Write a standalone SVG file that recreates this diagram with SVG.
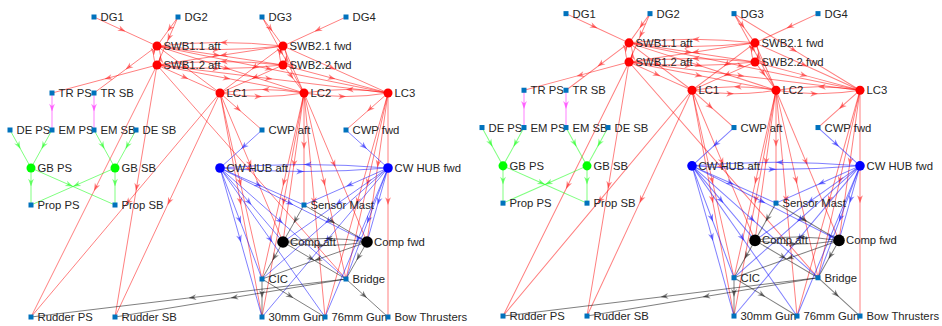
<svg xmlns="http://www.w3.org/2000/svg" width="942" height="326" viewBox="0 0 942 326">
<style>
.e{fill:none;stroke-width:1}
.r{stroke:#f00;stroke-opacity:.5;marker-mid:url(#ar)}
.b{stroke:#00f;stroke-opacity:.5;marker-mid:url(#ab)}
.g{stroke:#0f0;stroke-opacity:.5;marker-mid:url(#ag)}
.m{stroke:#f0f;stroke-opacity:.5;marker-mid:url(#am)}
.k{stroke:#000;stroke-opacity:.5;marker-mid:url(#ak)}
text{font-family:"Liberation Sans",Arial,sans-serif;font-size:11.3px;fill:#262626}
.sq{fill:#0072BD}
.rc{fill:#f00}
.gc{fill:#0f0}
.bc{fill:#00f}
.kc{fill:#000}
</style>
<defs>
<marker id="ar" markerUnits="userSpaceOnUse" markerWidth="10" markerHeight="10" viewBox="-8 -4 9 8" refX="0" refY="0" orient="auto" overflow="visible"><path d="M0,0 L-7,-2.6 L-5,0 L-7,2.6Z" fill="#f00" fill-opacity=".5"/></marker>
<marker id="ab" markerUnits="userSpaceOnUse" markerWidth="10" markerHeight="10" viewBox="-8 -4 9 8" refX="0" refY="0" orient="auto" overflow="visible"><path d="M0,0 L-7,-2.6 L-5,0 L-7,2.6Z" fill="#00f" fill-opacity=".5"/></marker>
<marker id="ag" markerUnits="userSpaceOnUse" markerWidth="10" markerHeight="10" viewBox="-8 -4 9 8" refX="0" refY="0" orient="auto" overflow="visible"><path d="M0,0 L-7,-2.6 L-5,0 L-7,2.6Z" fill="#0f0" fill-opacity=".5"/></marker>
<marker id="am" markerUnits="userSpaceOnUse" markerWidth="10" markerHeight="10" viewBox="-8 -4 9 8" refX="0" refY="0" orient="auto" overflow="visible"><path d="M0,0 L-7,-2.6 L-5,0 L-7,2.6Z" fill="#f0f" fill-opacity=".5"/></marker>
<marker id="ak" markerUnits="userSpaceOnUse" markerWidth="10" markerHeight="10" viewBox="-8 -4 9 8" refX="0" refY="0" orient="auto" overflow="visible"><path d="M0,0 L-7,-2.6 L-5,0 L-7,2.6Z" fill="#000" fill-opacity=".5"/></marker>
</defs>
<rect width="942" height="326" fill="#fff"/>

<g id="panel-left">
<g id="connectors-left">
<path class="e r" d="M94,17 L125.5,31.5 L157,46"/>
<path class="e r" d="M178,17 L167.5,31.5 L157,46"/>
<path class="e r" d="M178,17 L167.5,41 L157,65"/>
<path class="e r" d="M262,17 L272.5,31.5 L283,46"/>
<path class="e r" d="M262,17 L283,55 L304,93"/>
<path class="e r" d="M346,17 L314.5,31.5 L283,46"/>
<path class="e r" d="M157,46 Q153.5,50.75 153.5,55.5 Q153.5,60.25 157,65"/>
<path class="e r" d="M157,65 Q160.5,60.25 160.5,55.5 Q160.5,50.75 157,46"/>
<path class="e r" d="M283,46 Q279.5,50.75 279.5,55.5 Q279.5,60.25 283,65"/>
<path class="e r" d="M283,65 Q286.5,60.25 286.5,55.5 Q286.5,50.75 283,46"/>
<path class="e r" d="M157,46 Q188.5,49.5 220,49.5 Q251.5,49.5 283,46"/>
<path class="e r" d="M283,46 Q251.5,42.5 220,42.5 Q188.5,42.5 157,46"/>
<path class="e r" d="M157,65 Q188.5,68.5 220,68.5 Q251.5,68.5 283,65"/>
<path class="e r" d="M283,65 Q251.5,61.5 220,61.5 Q188.5,61.5 157,65"/>
<path class="e r" d="M157,46 L220,55.5 L283,65"/>
<path class="e r" d="M283,46 L220,55.5 L157,65"/>
<path class="e r" d="M157,46 L188.5,69.5 L220,93"/>
<path class="e r" d="M157,65 L188.5,79 L220,93"/>
<path class="e r" d="M283,46 L251.5,69.5 L220,93"/>
<path class="e r" d="M283,65 L251.5,79 L220,93"/>
<path class="e r" d="M157,46 L230.5,69.5 L304,93"/>
<path class="e r" d="M157,65 L230.5,79 L304,93"/>
<path class="e r" d="M283,46 L293.5,69.5 L304,93"/>
<path class="e r" d="M283,65 L293.5,79 L304,93"/>
<path class="e r" d="M157,46 L272.5,69.5 L388,93"/>
<path class="e r" d="M157,65 L272.5,79 L388,93"/>
<path class="e r" d="M283,46 L335.5,69.5 L388,93"/>
<path class="e r" d="M283,65 L335.5,79 L388,93"/>
<path class="e r" d="M220,93 Q241,96.5 262,96.5 Q283,96.5 304,93"/>
<path class="e r" d="M304,93 Q283,89.5 262,89.5 Q241,89.5 220,93"/>
<path class="e r" d="M304,93 Q325,96.5 346,96.5 Q367,96.5 388,93"/>
<path class="e r" d="M388,93 Q367,89.5 346,89.5 Q325,89.5 304,93"/>
<path class="e r" d="M157,65 L104.5,79 L52,93"/>
<path class="e r" d="M157,46 L125.5,69.5 L94,93"/>
<path class="e r" d="M157,65 L94,191 L31,317"/>
<path class="e r" d="M157,65 L136,191 L115,317"/>
<path class="e r" d="M220,93 L125.5,205 L31,317"/>
<path class="e r" d="M220,93 L167.5,205 L115,317"/>
<path class="e r" d="M157,65 L251.5,172 L346,279"/>
<path class="e r" d="M220,93 L241,111.5 L262,130"/>
<path class="e r" d="M388,93 L367,111.5 L346,130"/>
<path class="e r" d="M304,93 L304,149 L304,205"/>
<path class="e r" d="M220,93 L251.5,167.5 L283,242"/>
<path class="e r" d="M304,93 L293.5,167.5 L283,242"/>
<path class="e r" d="M304,93 L335.5,167.5 L367,242"/>
<path class="e r" d="M388,93 L377.5,167.5 L367,242"/>
<path class="e r" d="M220,93 L241,186 L262,279"/>
<path class="e r" d="M304,93 L283,186 L262,279"/>
<path class="e r" d="M304,93 L325,186 L346,279"/>
<path class="e r" d="M388,93 L367,186 L346,279"/>
<path class="e r" d="M220,93 L241,205 L262,317"/>
<path class="e r" d="M304,93 L283,205 L262,317"/>
<path class="e r" d="M304,93 L314.5,205 L325,317"/>
<path class="e r" d="M388,93 L356.5,205 L325,317"/>
<path class="e r" d="M388,93 L388,205 L388,317"/>
<path class="e m" d="M52,93 L52,111.5 L52,130"/>
<path class="e m" d="M94,93 L94,111.5 L94,130"/>
<path class="e g" d="M10,130 L20.5,149 L31,168"/>
<path class="e g" d="M52,130 L41.5,149 L31,168"/>
<path class="e g" d="M94,130 L104.5,149 L115,168"/>
<path class="e g" d="M136,130 L125.5,149 L115,168"/>
<path class="e g" d="M31,168 L31,186.5 L31,205"/>
<path class="e g" d="M31,168 L73,186.5 L115,205"/>
<path class="e g" d="M115,168 L73,186.5 L31,205"/>
<path class="e g" d="M115,168 L115,186.5 L115,205"/>
<path class="e b" d="M262,130 L241,149 L220,168"/>
<path class="e b" d="M346,130 L367,149 L388,168"/>
<path class="e b" d="M220,168 Q262,171.5 304,171.5 Q346,171.5 388,168"/>
<path class="e b" d="M388,168 Q346,164.5 304,164.5 Q262,164.5 220,168"/>
<path class="e b" d="M220,168 L262,186.5 L304,205"/>
<path class="e b" d="M388,168 L346,186.5 L304,205"/>
<path class="e b" d="M220,168 L251.5,205 L283,242"/>
<path class="e b" d="M220,168 L293.5,205 L367,242"/>
<path class="e b" d="M388,168 L335.5,205 L283,242"/>
<path class="e b" d="M388,168 L377.5,205 L367,242"/>
<path class="e b" d="M220,168 L241,223.5 L262,279"/>
<path class="e b" d="M220,168 L283,223.5 L346,279"/>
<path class="e b" d="M388,168 L325,223.5 L262,279"/>
<path class="e b" d="M388,168 L367,223.5 L346,279"/>
<path class="e b" d="M220,168 L241,242.5 L262,317"/>
<path class="e b" d="M220,168 L272.5,242.5 L325,317"/>
<path class="e b" d="M388,168 L325,242.5 L262,317"/>
<path class="e b" d="M388,168 L356.5,242.5 L325,317"/>
<path class="e k" d="M304,205 L293.5,223.5 L283,242"/>
<path class="e k" d="M304,205 L335.5,223.5 L367,242"/>
<path class="e k" d="M283,242 Q304,245.5 325,245.5 Q346,245.5 367,242"/>
<path class="e k" d="M367,242 Q346,238.5 325,238.5 Q304,238.5 283,242"/>
<path class="e k" d="M283,242 L272.5,260.5 L262,279"/>
<path class="e k" d="M283,242 L314.5,260.5 L346,279"/>
<path class="e k" d="M367,242 L314.5,260.5 L262,279"/>
<path class="e k" d="M367,242 L356.5,260.5 L346,279"/>
<path class="e k" d="M262,279 L262,298 L262,317"/>
<path class="e k" d="M262,279 L293.5,298 L325,317"/>
<path class="e k" d="M346,279 L367,298 L388,317"/>
<path class="e k" d="M346,279 L188.5,298 L31,317"/>
<path class="e k" d="M346,279 L230.5,298 L115,317"/>
</g>
<g id="L-DG1"><rect class="sq" x="91.5" y="14.5" width="5" height="5"/><text x="100.5" y="21">DG1</text></g>
<g id="L-DG2"><rect class="sq" x="175.5" y="14.5" width="5" height="5"/><text x="184.5" y="21">DG2</text></g>
<g id="L-DG3"><rect class="sq" x="259.5" y="14.5" width="5" height="5"/><text x="268.5" y="21">DG3</text></g>
<g id="L-DG4"><rect class="sq" x="343.5" y="14.5" width="5" height="5"/><text x="352.5" y="21">DG4</text></g>
<g id="L-SWB11"><circle class="rc" cx="157" cy="46" r="4.5"/><text x="163.5" y="50">SWB1.1 aft</text></g>
<g id="L-SWB12"><circle class="rc" cx="157" cy="65" r="4.5"/><text x="163.5" y="69">SWB1.2 aft</text></g>
<g id="L-SWB21"><circle class="rc" cx="283" cy="46" r="4.5"/><text x="289.5" y="50">SWB2.1 fwd</text></g>
<g id="L-SWB22"><circle class="rc" cx="283" cy="65" r="4.5"/><text x="289.5" y="69">SWB2.2 fwd</text></g>
<g id="L-TRPS"><rect class="sq" x="49.5" y="90.5" width="5" height="5"/><text x="58.5" y="97">TR PS</text></g>
<g id="L-TRSB"><rect class="sq" x="91.5" y="90.5" width="5" height="5"/><text x="100.5" y="97">TR SB</text></g>
<g id="L-LC1"><circle class="rc" cx="220" cy="93" r="4.5"/><text x="226.5" y="97">LC1</text></g>
<g id="L-LC2"><circle class="rc" cx="304" cy="93" r="4.5"/><text x="310.5" y="97">LC2</text></g>
<g id="L-LC3"><circle class="rc" cx="388" cy="93" r="4.5"/><text x="394.5" y="97">LC3</text></g>
<g id="L-DEPS"><rect class="sq" x="7.5" y="127.5" width="5" height="5"/><text x="16.5" y="134">DE PS</text></g>
<g id="L-EMPS"><rect class="sq" x="49.5" y="127.5" width="5" height="5"/><text x="58.5" y="134">EM PS</text></g>
<g id="L-EMSB"><rect class="sq" x="91.5" y="127.5" width="5" height="5"/><text x="100.5" y="134">EM SB</text></g>
<g id="L-DESB"><rect class="sq" x="133.5" y="127.5" width="5" height="5"/><text x="142.5" y="134">DE SB</text></g>
<g id="L-CWPaft"><rect class="sq" x="259.5" y="127.5" width="5" height="5"/><text x="268.5" y="134">CWP aft</text></g>
<g id="L-CWPfwd"><rect class="sq" x="343.5" y="127.5" width="5" height="5"/><text x="352.5" y="134">CWP fwd</text></g>
<g id="L-GBPS"><circle class="gc" cx="31" cy="168" r="4.5"/><text x="37.5" y="172">GB PS</text></g>
<g id="L-GBSB"><circle class="gc" cx="115" cy="168" r="4.5"/><text x="121.5" y="172">GB SB</text></g>
<g id="L-HUBaft"><circle class="bc" cx="220" cy="168" r="4.8"/><text x="226.5" y="172">CW HUB aft</text></g>
<g id="L-HUBfwd"><circle class="bc" cx="388" cy="168" r="4.8"/><text x="394.5" y="172">CW HUB fwd</text></g>
<g id="L-PropPS"><rect class="sq" x="28.5" y="202.5" width="5" height="5"/><text x="37.5" y="209">Prop PS</text></g>
<g id="L-PropSB"><rect class="sq" x="112.5" y="202.5" width="5" height="5"/><text x="121.5" y="209">Prop SB</text></g>
<g id="L-Sensor"><rect class="sq" x="301.5" y="202.5" width="5" height="5"/><text x="310.5" y="209">Sensor Mast</text></g>
<g id="L-CompAft"><circle class="kc" cx="283" cy="242" r="5.8"/><text x="290" y="246">Comp aft</text></g>
<g id="L-CompFwd"><circle class="kc" cx="367" cy="242" r="5.8"/><text x="374" y="246">Comp fwd</text></g>
<g id="L-CIC"><rect class="sq" x="259.5" y="276.5" width="5" height="5"/><text x="268.5" y="283">CIC</text></g>
<g id="L-Bridge"><rect class="sq" x="343.5" y="276.5" width="5" height="5"/><text x="352.5" y="283">Bridge</text></g>
<g id="L-RudPS"><rect class="sq" x="28.5" y="314.5" width="5" height="5"/><text x="37.5" y="321">Rudder PS</text></g>
<g id="L-RudSB"><rect class="sq" x="112.5" y="314.5" width="5" height="5"/><text x="121.5" y="321">Rudder SB</text></g>
<g id="L-G30"><rect class="sq" x="259.5" y="314.5" width="5" height="5"/><text x="268.5" y="321">30mm Gun</text></g>
<g id="L-G76"><rect class="sq" x="322.5" y="314.5" width="5" height="5"/><text x="331.5" y="321">76mm Gun</text></g>
<g id="L-BT"><rect class="sq" x="385.5" y="314.5" width="5" height="5"/><text x="394.5" y="321">Bow Thrusters</text></g>
</g>

<g id="panel-right" transform="translate(472,-3.5) scale(1,1.008)">
<g id="connectors-right">
<path class="e r" d="M94,17 L125.5,31.5 L157,46"/>
<path class="e r" d="M178,17 L167.5,31.5 L157,46"/>
<path class="e r" d="M178,17 L167.5,41 L157,65"/>
<path class="e r" d="M262,17 L272.5,31.5 L283,46"/>
<path class="e r" d="M262,17 L283,55 L304,93"/>
<path class="e r" d="M346,17 L314.5,31.5 L283,46"/>
<path class="e r" d="M262,17 L325,55 L388,93"/>
<path class="e r" d="M157,46 Q153.5,50.75 153.5,55.5 Q153.5,60.25 157,65"/>
<path class="e r" d="M157,65 Q160.5,60.25 160.5,55.5 Q160.5,50.75 157,46"/>
<path class="e r" d="M283,46 Q279.5,50.75 279.5,55.5 Q279.5,60.25 283,65"/>
<path class="e r" d="M283,65 Q286.5,60.25 286.5,55.5 Q286.5,50.75 283,46"/>
<path class="e r" d="M157,46 Q188.5,49.5 220,49.5 Q251.5,49.5 283,46"/>
<path class="e r" d="M283,46 Q251.5,42.5 220,42.5 Q188.5,42.5 157,46"/>
<path class="e r" d="M157,65 Q188.5,68.5 220,68.5 Q251.5,68.5 283,65"/>
<path class="e r" d="M283,65 Q251.5,61.5 220,61.5 Q188.5,61.5 157,65"/>
<path class="e r" d="M157,46 L220,55.5 L283,65"/>
<path class="e r" d="M283,46 L220,55.5 L157,65"/>
<path class="e r" d="M157,46 L188.5,69.5 L220,93"/>
<path class="e r" d="M157,65 L188.5,79 L220,93"/>
<path class="e r" d="M283,46 L251.5,69.5 L220,93"/>
<path class="e r" d="M283,65 L251.5,79 L220,93"/>
<path class="e r" d="M157,46 L230.5,69.5 L304,93"/>
<path class="e r" d="M157,65 L230.5,79 L304,93"/>
<path class="e r" d="M283,46 L293.5,69.5 L304,93"/>
<path class="e r" d="M283,65 L293.5,79 L304,93"/>
<path class="e r" d="M157,46 L272.5,69.5 L388,93"/>
<path class="e r" d="M157,65 L272.5,79 L388,93"/>
<path class="e r" d="M283,46 L335.5,69.5 L388,93"/>
<path class="e r" d="M283,65 L335.5,79 L388,93"/>
<path class="e r" d="M220,93 Q241,96.5 262,96.5 Q283,96.5 304,93"/>
<path class="e r" d="M304,93 Q283,89.5 262,89.5 Q241,89.5 220,93"/>
<path class="e r" d="M304,93 Q325,96.5 346,96.5 Q367,96.5 388,93"/>
<path class="e r" d="M388,93 Q367,89.5 346,89.5 Q325,89.5 304,93"/>
<path class="e r" d="M157,65 L104.5,79 L52,93"/>
<path class="e r" d="M157,46 L125.5,69.5 L94,93"/>
<path class="e r" d="M157,65 L94,191 L31,317"/>
<path class="e r" d="M157,65 L136,191 L115,317"/>
<path class="e r" d="M220,93 L125.5,205 L31,317"/>
<path class="e r" d="M220,93 L167.5,205 L115,317"/>
<path class="e r" d="M157,65 L251.5,172 L346,279"/>
<path class="e r" d="M220,93 L241,111.5 L262,130"/>
<path class="e r" d="M388,93 L367,111.5 L346,130"/>
<path class="e r" d="M304,93 L304,149 L304,205"/>
<path class="e r" d="M220,93 L251.5,167.5 L283,242"/>
<path class="e r" d="M304,93 L293.5,167.5 L283,242"/>
<path class="e r" d="M304,93 L335.5,167.5 L367,242"/>
<path class="e r" d="M388,93 L377.5,167.5 L367,242"/>
<path class="e r" d="M220,93 L241,186 L262,279"/>
<path class="e r" d="M304,93 L283,186 L262,279"/>
<path class="e r" d="M304,93 L325,186 L346,279"/>
<path class="e r" d="M388,93 L367,186 L346,279"/>
<path class="e r" d="M220,93 L241,205 L262,317"/>
<path class="e r" d="M304,93 L283,205 L262,317"/>
<path class="e r" d="M304,93 L314.5,205 L325,317"/>
<path class="e r" d="M388,93 L356.5,205 L325,317"/>
<path class="e r" d="M388,93 L388,205 L388,317"/>
<path class="e m" d="M52,93 L52,111.5 L52,130"/>
<path class="e m" d="M94,93 L94,111.5 L94,130"/>
<path class="e g" d="M10,130 L20.5,149 L31,168"/>
<path class="e g" d="M52,130 L41.5,149 L31,168"/>
<path class="e g" d="M94,130 L104.5,149 L115,168"/>
<path class="e g" d="M136,130 L125.5,149 L115,168"/>
<path class="e g" d="M31,168 L31,186.5 L31,205"/>
<path class="e g" d="M31,168 L73,186.5 L115,205"/>
<path class="e g" d="M115,168 L73,186.5 L31,205"/>
<path class="e g" d="M115,168 L115,186.5 L115,205"/>
<path class="e b" d="M262,130 L241,149 L220,168"/>
<path class="e b" d="M346,130 L367,149 L388,168"/>
<path class="e b" d="M220,168 Q262,171.5 304,171.5 Q346,171.5 388,168"/>
<path class="e b" d="M388,168 Q346,164.5 304,164.5 Q262,164.5 220,168"/>
<path class="e b" d="M220,168 L262,186.5 L304,205"/>
<path class="e b" d="M388,168 L346,186.5 L304,205"/>
<path class="e b" d="M220,168 L251.5,205 L283,242"/>
<path class="e b" d="M220,168 L293.5,205 L367,242"/>
<path class="e b" d="M388,168 L335.5,205 L283,242"/>
<path class="e b" d="M388,168 L377.5,205 L367,242"/>
<path class="e b" d="M220,168 L241,223.5 L262,279"/>
<path class="e b" d="M220,168 L283,223.5 L346,279"/>
<path class="e b" d="M388,168 L325,223.5 L262,279"/>
<path class="e b" d="M388,168 L367,223.5 L346,279"/>
<path class="e b" d="M220,168 L241,242.5 L262,317"/>
<path class="e b" d="M220,168 L272.5,242.5 L325,317"/>
<path class="e b" d="M388,168 L325,242.5 L262,317"/>
<path class="e b" d="M388,168 L356.5,242.5 L325,317"/>
<path class="e k" d="M304,205 L293.5,223.5 L283,242"/>
<path class="e k" d="M304,205 L335.5,223.5 L367,242"/>
<path class="e k" d="M283,242 Q304,245.5 325,245.5 Q346,245.5 367,242"/>
<path class="e k" d="M367,242 Q346,238.5 325,238.5 Q304,238.5 283,242"/>
<path class="e k" d="M283,242 L272.5,260.5 L262,279"/>
<path class="e k" d="M283,242 L314.5,260.5 L346,279"/>
<path class="e k" d="M367,242 L314.5,260.5 L262,279"/>
<path class="e k" d="M367,242 L356.5,260.5 L346,279"/>
<path class="e k" d="M262,279 L262,298 L262,317"/>
<path class="e k" d="M262,279 L293.5,298 L325,317"/>
<path class="e k" d="M346,279 L367,298 L388,317"/>
<path class="e k" d="M346,279 L188.5,298 L31,317"/>
<path class="e k" d="M346,279 L230.5,298 L115,317"/>
</g>
<g id="R-DG1"><rect class="sq" x="91.5" y="14.5" width="5" height="5"/><text x="100.5" y="21">DG1</text></g>
<g id="R-DG2"><rect class="sq" x="175.5" y="14.5" width="5" height="5"/><text x="184.5" y="21">DG2</text></g>
<g id="R-DG3"><rect class="sq" x="259.5" y="14.5" width="5" height="5"/><text x="268.5" y="21">DG3</text></g>
<g id="R-DG4"><rect class="sq" x="343.5" y="14.5" width="5" height="5"/><text x="352.5" y="21">DG4</text></g>
<g id="R-SWB11"><circle class="rc" cx="157" cy="46" r="4.5"/><text x="163.5" y="50">SWB1.1 aft</text></g>
<g id="R-SWB12"><circle class="rc" cx="157" cy="65" r="4.5"/><text x="163.5" y="69">SWB1.2 aft</text></g>
<g id="R-SWB21"><circle class="rc" cx="283" cy="46" r="4.5"/><text x="289.5" y="50">SWB2.1 fwd</text></g>
<g id="R-SWB22"><circle class="rc" cx="283" cy="65" r="4.5"/><text x="289.5" y="69">SWB2.2 fwd</text></g>
<g id="R-TRPS"><rect class="sq" x="49.5" y="90.5" width="5" height="5"/><text x="58.5" y="97">TR PS</text></g>
<g id="R-TRSB"><rect class="sq" x="91.5" y="90.5" width="5" height="5"/><text x="100.5" y="97">TR SB</text></g>
<g id="R-LC1"><circle class="rc" cx="220" cy="93" r="4.5"/><text x="226.5" y="97">LC1</text></g>
<g id="R-LC2"><circle class="rc" cx="304" cy="93" r="4.5"/><text x="310.5" y="97">LC2</text></g>
<g id="R-LC3"><circle class="rc" cx="388" cy="93" r="4.5"/><text x="394.5" y="97">LC3</text></g>
<g id="R-DEPS"><rect class="sq" x="7.5" y="127.5" width="5" height="5"/><text x="16.5" y="134">DE PS</text></g>
<g id="R-EMPS"><rect class="sq" x="49.5" y="127.5" width="5" height="5"/><text x="58.5" y="134">EM PS</text></g>
<g id="R-EMSB"><rect class="sq" x="91.5" y="127.5" width="5" height="5"/><text x="100.5" y="134">EM SB</text></g>
<g id="R-DESB"><rect class="sq" x="133.5" y="127.5" width="5" height="5"/><text x="142.5" y="134">DE SB</text></g>
<g id="R-CWPaft"><rect class="sq" x="259.5" y="127.5" width="5" height="5"/><text x="268.5" y="134">CWP aft</text></g>
<g id="R-CWPfwd"><rect class="sq" x="343.5" y="127.5" width="5" height="5"/><text x="352.5" y="134">CWP fwd</text></g>
<g id="R-GBPS"><circle class="gc" cx="31" cy="168" r="4.5"/><text x="37.5" y="172">GB PS</text></g>
<g id="R-GBSB"><circle class="gc" cx="115" cy="168" r="4.5"/><text x="121.5" y="172">GB SB</text></g>
<g id="R-HUBaft"><circle class="bc" cx="220" cy="168" r="4.8"/><text x="226.5" y="172">CW HUB aft</text></g>
<g id="R-HUBfwd"><circle class="bc" cx="388" cy="168" r="4.8"/><text x="394.5" y="172">CW HUB fwd</text></g>
<g id="R-PropPS"><rect class="sq" x="28.5" y="202.5" width="5" height="5"/><text x="37.5" y="209">Prop PS</text></g>
<g id="R-PropSB"><rect class="sq" x="112.5" y="202.5" width="5" height="5"/><text x="121.5" y="209">Prop SB</text></g>
<g id="R-Sensor"><rect class="sq" x="301.5" y="202.5" width="5" height="5"/><text x="310.5" y="209">Sensor Mast</text></g>
<g id="R-CompAft"><circle class="kc" cx="283" cy="242" r="5.8"/><text x="290" y="246">Comp aft</text></g>
<g id="R-CompFwd"><circle class="kc" cx="367" cy="242" r="5.8"/><text x="374" y="246">Comp fwd</text></g>
<g id="R-CIC"><rect class="sq" x="259.5" y="276.5" width="5" height="5"/><text x="268.5" y="283">CIC</text></g>
<g id="R-Bridge"><rect class="sq" x="343.5" y="276.5" width="5" height="5"/><text x="352.5" y="283">Bridge</text></g>
<g id="R-RudPS"><rect class="sq" x="28.5" y="314.5" width="5" height="5"/><text x="37.5" y="321">Rudder PS</text></g>
<g id="R-RudSB"><rect class="sq" x="112.5" y="314.5" width="5" height="5"/><text x="121.5" y="321">Rudder SB</text></g>
<g id="R-G30"><rect class="sq" x="259.5" y="314.5" width="5" height="5"/><text x="268.5" y="321">30mm Gun</text></g>
<g id="R-G76"><rect class="sq" x="322.5" y="314.5" width="5" height="5"/><text x="331.5" y="321">76mm Gun</text></g>
<g id="R-BT"><rect class="sq" x="385.5" y="314.5" width="5" height="5"/><text x="394.5" y="321">Bow Thrusters</text></g>
</g>
</svg>
